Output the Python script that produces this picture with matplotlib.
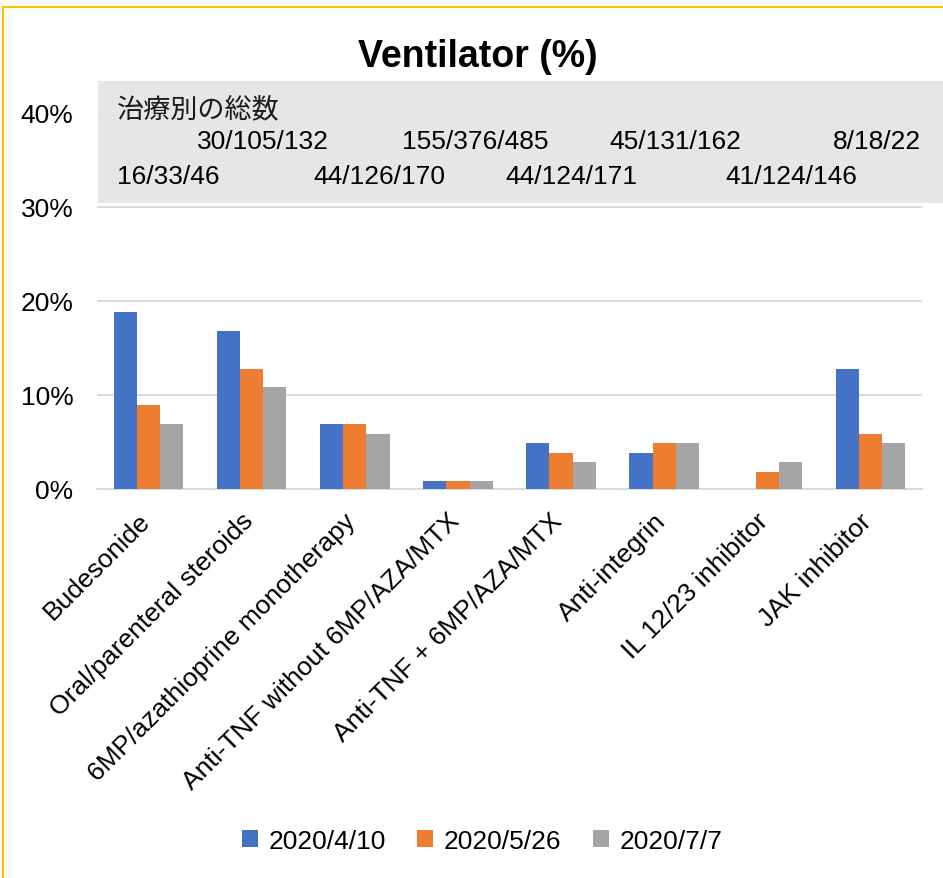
import numpy as np
import matplotlib.pyplot as plt
from matplotlib.patches import Rectangle
from matplotlib.lines import Line2D
from matplotlib.ticker import PercentFormatter
from matplotlib.transforms import ScaledTranslation

categories = ["Budesonide", "Oral/parenteral steroids", "6MP/azathioprine monotherapy",
              "Anti-TNF without 6MP/AZA/MTX", "Anti-TNF + 6MP/AZA/MTX", "Anti-integrin",
              "IL 12/23 inhibitor", "JAK inhibitor"]
series_names = ["2020/4/10", "2020/5/26", "2020/7/7"]
apr10 = [18.8, 16.8, 6.9, 0.9, 4.9, 3.8, 0.0, 12.8]
may26 = [8.9, 12.8, 6.9, 0.9, 3.8, 4.9, 1.8, 5.8]
jul07 = [6.9, 10.9, 5.8, 0.9, 2.9, 4.9, 2.9, 4.9]
totals_title = "治療別の総数"
totals = ["16/33/46", "30/105/132", "44/126/170", "155/376/485",
          "44/124/171", "45/131/162", "41/124/146", "8/18/22"]

colors = ["#4472C4", "#ED7D31", "#A5A5A5"]
W, H = 943, 879
plt.rcParams['font.family'] = ['Liberation Sans', 'DejaVu Sans']

fig = plt.figure(figsize=(W / 100, H / 100), dpi=100)
ax = fig.add_axes([97 / W, 1 - 490 / H, 825 / W, 376 / H])

x = np.arange(len(categories))
w = 0.225
for i, vals in enumerate([apr10, may26, jul07]):
    ax.bar(x + (i - 1) * w, vals, w, color=colors[i], label=series_names[i], zorder=3)

ax.set_xlim(-0.5, len(categories) - 0.5)
ax.set_ylim(0, 40)
ax.set_yticks([0, 10, 20, 30, 40])
ax.yaxis.set_major_formatter(PercentFormatter(100, decimals=0))
ax.grid(axis='y', color='#D9D9D9', lw=1.4, zorder=0)
for s in ['top', 'right', 'left']:
    ax.spines[s].set_visible(False)
ax.spines['bottom'].set_color('#D9D9D9')
ax.spines['bottom'].set_linewidth(1.4)
ax.tick_params(axis='y', length=0, pad=17, labelsize=19, labelcolor='black')
ax.tick_params(axis='x', length=0, pad=14, labelsize=19, labelcolor='black')
ax.set_xticks(x)
ax.set_xticklabels(categories, rotation=45, ha='right', rotation_mode='anchor')
shift = ScaledTranslation(-0.11, 0, fig.dpi_scale_trans)
for lab in ax.get_xticklabels():
    lab.set_transform(lab.get_transform() + shift)

fig.text(478 / W, 1 - 57 / H, "Ventilator (%)", ha='center', va='center',
         fontsize=27, fontweight='bold', color='black')

# gray totals box
fig.add_artist(Rectangle((98 / W, 1 - 204 / H), 1, 122 / H, transform=fig.transFigure,
                         facecolor='#E7E6E6', edgecolor='none', zorder=2))
fig.text(117 / W, 1 - 110 / H, totals_title, family=['Noto Sans CJK JP', 'DejaVu Sans'],
         fontsize=19.5, color='#1a1a1a', va='center', ha='left', zorder=3)
label_x = [117, 197, 313, 402, 505, 609, 725, 833]
for i, t in enumerate(totals):
    y = 177 if i % 2 == 0 else 142
    fig.text(label_x[i] / W, 1 - y / H, t, fontsize=19, color='black',
             va='center', ha='left', zorder=3)

# golden border
fig.add_artist(Line2D([3 / W, 1], [1 - 8 / H, 1 - 8 / H], transform=fig.transFigure,
                      color='#FFC000', lw=1.5))
fig.add_artist(Line2D([3 / W, 3 / W], [0, 1 - 8 / H], transform=fig.transFigure,
                      color='#FFC000', lw=1.5))

fig.legend(loc='center', bbox_to_anchor=(482 / W, 1 - 842 / H), ncol=3, frameon=False,
           fontsize=19, handlelength=0.6, handleheight=0.6, handletextpad=0.4,
           columnspacing=1.2, labelcolor='black')

fig.savefig('out.png', dpi=100)
